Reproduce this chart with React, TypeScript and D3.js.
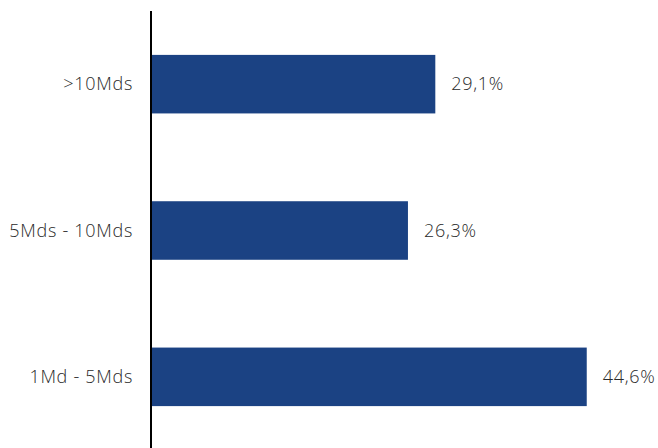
import React from "react";
import * as d3 from "d3";

const categories = [">10Mds", "5Mds - 10Mds", "1Md - 5Mds"];
const values = [29.1, 26.3, 44.6];
const valueLabels = ["29,1%", "26,3%", "44,6%"];

const W = 658;
const H = 448;

export default function App() {
  const x = d3.scaleLinear().domain([0, 50]).range([151, 639.5]);
  const y = d3.scaleBand<string>().domain(categories).range([11, 450]).paddingInner(0.6).paddingOuter(0.3);
  const font = "Open Sans, sans-serif";
  return (
    <svg width={W} height={H} style={{ position: "absolute", left: 0, top: 0 }}>
      {categories.map((c, i) => {
        const yc = (y(c) as number) + y.bandwidth() / 2;
        return (
          <g key={c}>
            <rect x={x(0)} y={y(c)} width={x(values[i]) - x(0)} height={y.bandwidth()} fill="#1B4283" />
            <text x={133} y={yc} dy="0.35em" textAnchor="end" fontFamily={font} fontSize={18} fontWeight={300} fill="#2a2a2a" letterSpacing={0.7}>
              {c}
            </text>
            <text x={x(values[i]) + 16} y={yc} dy="0.35em" textAnchor="start" fontFamily={font} fontSize={18} fontWeight={300} fill="#2a2a2a" letterSpacing={0.7}>
              {valueLabels[i]}
            </text>
          </g>
        );
      })}
      <line x1={151} x2={151} y1={11} y2={H} stroke="#000" strokeWidth={2} />
    </svg>
  );
}
